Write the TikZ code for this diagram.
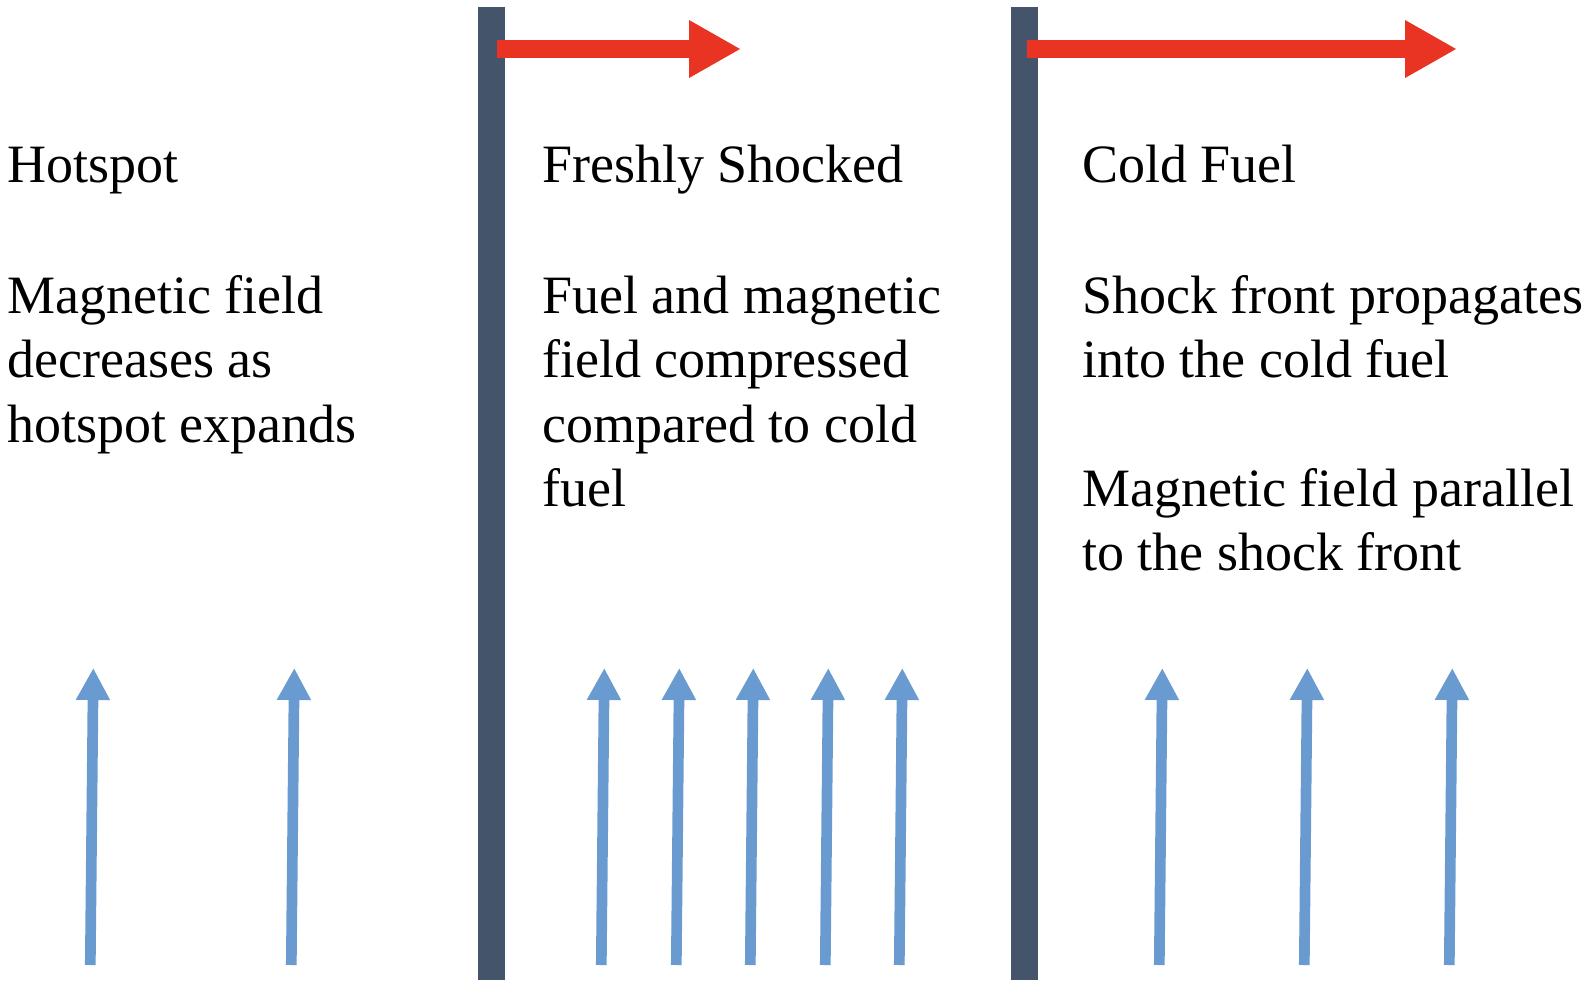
\documentclass[tikz,border=0pt]{standalone}
\usepackage{fontspec}
\setmainfont{Liberation Serif}
\usetikzlibrary{arrows.meta}
\definecolor{barcol}{HTML}{44546A}
\definecolor{redarr}{HTML}{E93424}
\definecolor{bluearr}{HTML}{6A9BD0}
\tikzset{
  shockbar/.style={fill=barcol, draw=none},
  motion/.style={draw=redarr, line width=18pt, -{Triangle[length=52pt, width=54pt]}},
  field/.style={draw=bluearr, line width=10.7pt, -{Triangle[length=32pt, width=32pt]}},
  label/.style={anchor=base west, inner sep=0pt, font=\fontsize{54}{64.3}\selectfont},
}
\begin{document}
\begin{tikzpicture}[x=1pt, y=-1pt]
\useasboundingbox (0,0) rectangle (1591,986);
% shock fronts
\fill[shockbar] (478,7) rectangle (505,980);
\fill[shockbar] (1011,7) rectangle (1038,980);
% red motion arrows
\coordinate (r1s) at (497,49);
\coordinate (r1e) at (741,49);
\coordinate (r2s) at (1027,49);
\coordinate (r2e) at (1457,49);
\draw[motion] (r1s) -- (r1e);
\draw[motion] (r2s) -- (r2e);
% field arrows
\foreach \i/\t in {1/93.3, 2/294.3, 3/604.3, 4/679.3, 5/753.3, 6/828.3, 7/902.3, 8/1162.3, 9/1307.3, 10/1452.3} {
  \coordinate (b\i) at ({\t-3},965);
  \coordinate (t\i) at (\t,668);
  \draw[field] (b\i) -- (t\i);
}
% texts
\node[label] (hot) at (7,182) {\begin{tabular}[t]{@{}l@{}}Hotspot\\ \\[3pt] Magnetic field\\ decreases as\\ hotspot expands\end{tabular}};
\node[label] (fresh) at (542,182) {\begin{tabular}[t]{@{}l@{}}Freshly Shocked\\ \\[3pt] Fuel and magnetic\\ field compressed\\ compared to cold\\ fuel\end{tabular}};
\node[label] (cold) at (1082,182) {\begin{tabular}[t]{@{}l@{}}Cold Fuel\\ \\[3pt] Shock front propagates\\ into the cold fuel\\ \\ Magnetic field parallel\\ to the shock front\end{tabular}};
\end{tikzpicture}
\end{document}
